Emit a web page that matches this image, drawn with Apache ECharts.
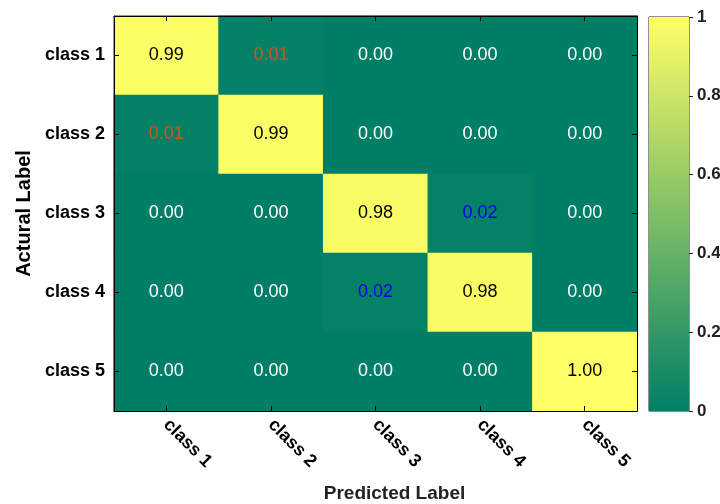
<!DOCTYPE html>
<html>
<head>
<meta charset="utf-8">
<script src="https://cdn.jsdelivr.net/npm/echarts@6/dist/echarts.min.js"></script>
<style>html,body{margin:0;padding:0;background:#fff}#c{width:720px;height:504px}</style>
</head>
<body>
<div id="c"></div>
<script>
const predictedLabels = ['class 1', 'class 2', 'class 3', 'class 4', 'class 5'];
const actualLabels = ['class 1', 'class 2', 'class 3', 'class 4', 'class 5'];
const row1 = [0.99, 0.01, 0.00, 0.00, 0.00];
const row2 = [0.01, 0.99, 0.00, 0.00, 0.00];
const row3 = [0.00, 0.00, 0.98, 0.02, 0.00];
const row4 = [0.00, 0.00, 0.02, 0.98, 0.00];
const row5 = [0.00, 0.00, 0.00, 0.00, 1.00];
const colorbarTicks = [0, 0.2, 0.4, 0.6, 0.8, 1];

const rows = [row1, row2, row3, row4, row5];
const FONT = 'Arial, "Liberation Sans", sans-serif';
const LOW = '#007f66', HIGH = '#ffff66';

function labelColor(v) {
  if (v >= 0.5) return '#000000';
  if (v === 0) return '#ffffff';
  if (v < 0.015) return '#d95319';
  return '#0000ee';
}

const heatData = [];
rows.forEach((r, yi) => r.forEach((v, xi) => {
  heatData.push({ value: [xi, yi, v], label: { color: labelColor(v) } });
}));

const chart = echarts.init(document.getElementById('c'), null, { renderer: 'canvas' });
const tickStyle = { show: true, inside: true, alignWithLabel: true, length: 5, lineStyle: { color: '#000', width: 1 } };

chart.setOption({
  animation: false,
  backgroundColor: '#fff',
  grid: [
    { left: 114, top: 16, width: 523, height: 395, show: true, borderColor: '#000', borderWidth: 1, backgroundColor: LOW, outerBoundsMode: 'none', containLabel: false },
    { left: 649, top: 17, width: 40, height: 394, show: true, borderColor: '#222', borderWidth: 1, backgroundColor: 'transparent', outerBoundsMode: 'none', containLabel: false }
  ],
  xAxis: [
    {
      gridIndex: 0, type: 'category', data: predictedLabels, position: 'bottom', z: 10,
      axisLine: { show: true, lineStyle: { color: '#000' } }, axisTick: tickStyle,
      axisLabel: { rotate: -45, margin: 11, fontFamily: FONT, fontSize: 18, fontWeight: 'bold', color: '#000' },
      name: 'Predicted Label', nameLocation: 'middle', nameGap: 73,
      nameTextStyle: { fontFamily: FONT, fontSize: 19, fontWeight: 'bold', color: '#222', padding: [0, 0, 0, 38] },
      splitLine: { show: false }
    },
    {
      gridIndex: 0, type: 'category', data: predictedLabels, position: 'top', z: 10,
      axisLine: { show: true, lineStyle: { color: '#000' } }, axisTick: tickStyle,
      axisLabel: { show: false }, splitLine: { show: false }
    },
    {
      gridIndex: 1, type: 'category', data: ['c'], boundaryGap: true,
      axisLine: { show: false }, axisTick: { show: false }, axisLabel: { show: false }
    }
  ],
  yAxis: [
    {
      gridIndex: 0, type: 'category', data: actualLabels, inverse: true, position: 'left', z: 10,
      axisLine: { show: true, lineStyle: { color: '#000' } }, axisTick: tickStyle,
      axisLabel: { margin: 9, fontFamily: FONT, fontSize: 18, fontWeight: 'bold', color: '#000' },
      name: 'Actural Label', nameLocation: 'middle', nameGap: 79, nameRotate: 90,
      nameTextStyle: { fontFamily: FONT, fontSize: 20, fontWeight: 'bold', color: '#000' },
      splitLine: { show: false }
    },
    {
      gridIndex: 0, type: 'category', data: actualLabels, inverse: true, position: 'right', z: 10,
      axisLine: { show: true, lineStyle: { color: '#000' } }, axisTick: tickStyle,
      axisLabel: { show: false }, splitLine: { show: false }
    },
    {
      gridIndex: 1, type: 'value', min: 0, max: 1, interval: 0.2, position: 'right', z: 10,
      axisLine: { show: false },
      axisTick: { show: true, inside: false, length: 4, lineStyle: { color: '#222' } },
      axisLabel: { margin: 8, fontFamily: FONT, fontSize: 17, fontWeight: 'bold', color: '#222',
        formatter: v => String(Math.round(v * 10) / 10) },
      splitLine: { show: false }
    }
  ],
  visualMap: {
    show: false, type: 'continuous', min: 0, max: 1, seriesIndex: 0, dimension: 2,
    inRange: { color: [LOW, HIGH] }
  },
  series: [
    {
      type: 'heatmap', xAxisIndex: 0, yAxisIndex: 0, data: heatData, z: 1,
      label: { show: true, fontFamily: FONT, fontSize: 18, formatter: p => p.value[2].toFixed(2) },
      itemStyle: { borderWidth: 0 }, emphasis: { disabled: true }
    },
    {
      type: 'bar', xAxisIndex: 2, yAxisIndex: 2, data: [colorbarTicks[colorbarTicks.length - 1]],
      barWidth: '100%', silent: true,
      itemStyle: {
        color: new echarts.graphic.LinearGradient(0, 0, 0, 1, [
          { offset: 0, color: HIGH }, { offset: 1, color: LOW }
        ])
      }
    }
  ]
});
</script>
</body>
</html>
